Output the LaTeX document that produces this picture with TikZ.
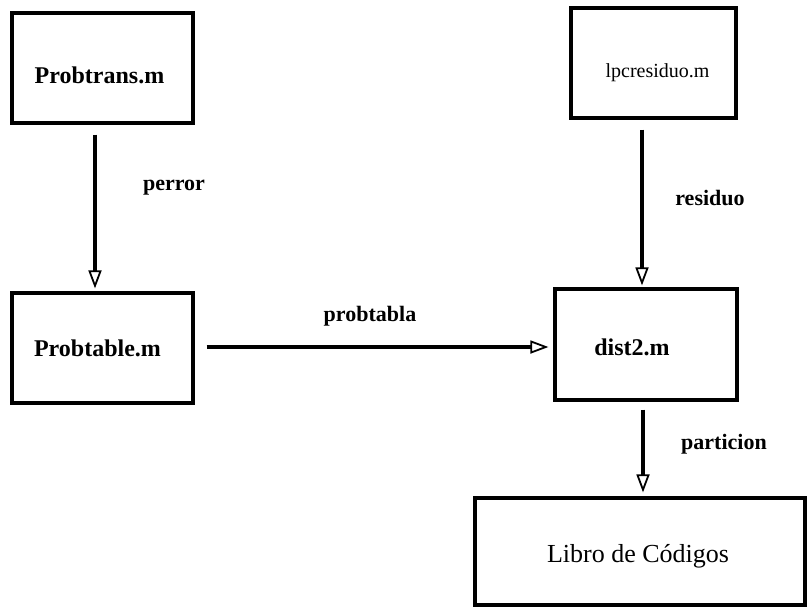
\documentclass[tikz,border=0pt]{standalone}
\usepackage{fontspec}
\setmainfont{Liberation Serif}
\usetikzlibrary{arrows.meta,calc}
\begin{document}
\begin{tikzpicture}[x=1pt,y=-1pt,
  box/.style={draw, line width=3.2pt, inner sep=0pt, fill=white},
  boxtext/.style={font=\fontsize{24}{27}\selectfont\bfseries},
  flow/.style={line width=3.4pt,
    -{Triangle[open,length=18pt,width=13pt,line width=1.8pt]}},
  flowlabel/.style={font=\fontsize{22}{25}\selectfont\bfseries, inner sep=0pt}]
  \useasboundingbox (0,0) rectangle (807,606);

  % modules
  \node[box, minimum width=181pt, minimum height=110pt,
        label={[boxtext, xshift=-3pt, yshift=-7pt]center:Probtrans.m}]
        (trans) at (102.5,68) {};
  \node[box, minimum width=165pt, minimum height=110pt,
        label={[font=\fontsize{20}{23}\selectfont, xshift=4pt, yshift=-10pt]center:lpcresiduo.m}]
        (lpc) at (653.5,63) {};
  \node[box, minimum width=181pt, minimum height=110pt,
        label={[boxtext, xshift=-5pt]center:Probtable.m}]
        (table) at (102.5,348) {};
  \node[box, minimum width=182pt, minimum height=111pt,
        label={[boxtext, xshift=-14pt, yshift=-3pt]center:dist2.m}]
        (dist) at (646,344.5) {};
  \node[box, minimum width=330pt, minimum height=107pt,
        label={[font=\fontsize{26}{29}\selectfont, xshift=-2pt, yshift=-5pt]center:Libro de Códigos}]
        (libro) at (640,551.5) {};

  % vertical lines the flows run along
  \coordinate (xa) at (95,0);
  \coordinate (xb) at (642,0);
  \coordinate (xc) at (643,0);

  % data flow between modules
  \draw[flow] ($(trans.south -| xa)+(0,10)$) -- ($(table.north -| xa)+(0,-3)$);
  \draw[flow] ($(lpc.south -| xb)+(0,10)$) -- ($(dist.north -| xb)+(0,-2)$);
  \draw[flow] ($(table.east)+(12,-1)$) -- ($(table.east -| dist.west)+(-5,-1)$);
  \draw[flow] ($(dist.south -| xc)+(0,8)$) -- ($(libro.north -| xc)+(0,-4)$);

  % names of the data passed
  \node[flowlabel] (lperror) at (174,188) {perror};
  \node[flowlabel] (lresid) at (710,198) {residuo};
  \node[flowlabel] (lprob) at (370,316) {probtabla};
  \node[flowlabel] (lpart) at (724,444) {particion};
\end{tikzpicture}
\end{document}
